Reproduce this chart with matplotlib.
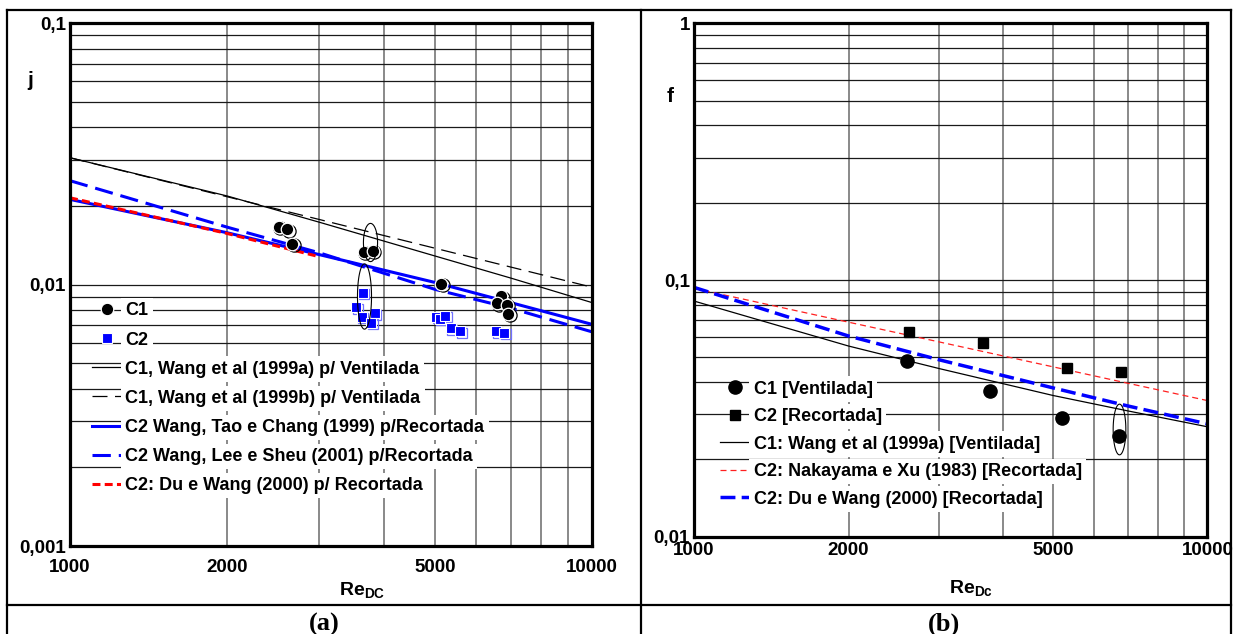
import numpy as np
import matplotlib
matplotlib.use("Agg")
import matplotlib.pyplot as plt
from matplotlib.path import Path
from matplotlib.lines import Line2D
from matplotlib.transforms import offset_copy
from matplotlib.ticker import NullFormatter

plt.rcParams['font.family'] = ['Liberation Sans', 'DejaVu Sans']
plt.rcParams['font.weight'] = 'bold'
plt.rcParams['mathtext.fontset'] = 'custom'
plt.rcParams['mathtext.bf'] = 'Liberation Sans:bold'
plt.rcParams['mathtext.rm'] = 'Liberation Sans:bold'
plt.rcParams['mathtext.it'] = 'Liberation Sans:bold'

# ---- (a) Colburn factor j ----
re_c1_a = [2512, 2606, 2665, 3652, 3806, 5142, 6698, 6592, 6870, 6918]
j_c1 = [0.01668, 0.01630, 0.01432, 0.01339, 0.01351, 0.01007, 0.00901, 0.00850, 0.00837, 0.00773]
re_c2_a = [3642, 3537, 3626, 3834, 3779, 5030, 5105, 5234, 5367, 5591, 6553, 6797]
j_c2 = [0.00933, 0.00818, 0.00755, 0.00778, 0.00716, 0.00755, 0.00740, 0.00762, 0.00682, 0.00662, 0.00662, 0.00656]

re_curve = [1000, 2000, 3000, 5000, 7000, 10000]
j_wang99a = [0.0306, 0.02185, 0.01735, 0.01288, 0.01059, 0.00854]
j_wang99b = [0.0306, 0.0217, 0.01777, 0.01379, 0.01167, 0.00978]
j_tao = [0.0212, 0.0158, 0.01304, 0.0102, 0.00853, 0.00705]
j_lee = [0.0250, 0.0166, 0.01325, 0.0096, 0.00812, 0.0066]
re_du_a = [1000, 2000, 3000]
j_du = [0.0215, 0.0157, 0.0128]

ell_a_re = [3761, 3652]
ell_a_j = [0.0145, 0.00908]

# ---- (b) friction factor f ----
re_c1_b = [2595, 3771, 5206, 6716]
f_c1 = [0.0485, 0.0370, 0.0291, 0.0247]
re_c2_b = [2622, 3654, 5325, 6784]
f_c2 = [0.0626, 0.0570, 0.0455, 0.0438]

f_wang99a = [0.0828, 0.0553, 0.0452, 0.0355, 0.0309, 0.0268]
f_nakayama = [0.0928, 0.0685, 0.0574, 0.0459, 0.0396, 0.0339]
f_du = [0.0936, 0.0605, 0.0489, 0.0380, 0.0323, 0.0275]

ell_b_re = [6714]
ell_b_f = [0.02634]

x_major = [1000, 2000, 5000, 10000]
x_labels = ['1000', '2000', '5000', '10000']
x_minor = [3000, 4000, 6000, 7000, 8000, 9000]

BOLD13 = {'weight': 'bold', 'size': 13}


def ellipse_marker(ratio):
    t = np.linspace(0, 2 * np.pi, 80)
    return Path(np.column_stack([ratio * np.cos(t), np.sin(t)]))


def setup_axes(ax, ylim, yticks, ylabels, xpad):
    ax.set_xscale('log')
    ax.set_yscale('log')
    ax.set_xlim(1000, 10000)
    ax.set_ylim(*ylim)
    ax.set_xticks(x_major, x_labels, fontweight='bold')
    ax.set_xticks(x_minor, minor=True)
    ax.xaxis.set_minor_formatter(NullFormatter())
    yminor = [m * d for d in yticks[:-1] for m in range(2, 10)]
    ax.set_yticks(yticks, ylabels, fontweight='bold')
    ax.set_yticks(yminor, minor=True)
    ax.yaxis.set_minor_formatter(NullFormatter())
    ax.grid(which='both', axis='x', color='#6a6a6a', lw=1.1)
    ax.grid(which='both', axis='y', color='#1a1a1a', lw=0.9)
    ax.tick_params(which='both', length=0, labelsize=13.5)
    ax.tick_params(axis='y', pad=3)
    ax.tick_params(axis='x', pad=xpad)
    for s in ax.spines.values():
        s.set_linewidth(2.3)
    ax.set_axisbelow(True)


fig = plt.figure(figsize=(12.34, 6.34), dpi=100)

# ---------------- panel (a) ----------------
ax1 = fig.add_axes([0.0567, 0.1388, 0.423, 0.8244])
setup_axes(ax1, (0.001, 0.1), [0.001, 0.01, 0.1], ['0,001', '0,01', '0,1'], 9)

sh = offset_copy(ax1.transData, fig=fig, x=1.5, y=-1.5, units='dots')

l1, = ax1.plot(re_curve, j_wang99a, color='black', lw=0.9)
l2, = ax1.plot(re_curve, j_wang99b, color='black', lw=0.9, dashes=(12, 6))
l3, = ax1.plot(re_curve, j_tao, color='#0000ff', lw=2.2)
l4, = ax1.plot(re_curve, j_lee, color='#0000ff', lw=2.2, dashes=(6, 2.6))
l5, = ax1.plot(re_du_a, j_du, color='#ff0000', lw=2.2, dashes=(2.6, 1.4))

ax1.plot(re_c2_a, j_c2, 's', ms=7, mfc='none', mec='#7070ff', mew=0.9, transform=sh)
p2, = ax1.plot(re_c2_a, j_c2, 's', ms=6.5, mfc='#0000ff', mec='white', mew=0.8, ls='none')
ax1.plot(re_c1_a, j_c1, 'o', ms=9.5, mfc='none', mec='black', mew=0.9, transform=sh)
p1, = ax1.plot(re_c1_a, j_c1, 'o', ms=9, mfc='black', mec='white', mew=0.9, ls='none')

ax1.plot(ell_a_re[:1], ell_a_j[:1], ls='none', marker=ellipse_marker(0.37), ms=27.5,
         mfc='none', mec='black', mew=0.8)
ax1.plot(ell_a_re[1:], ell_a_j[1:], ls='none', marker=ellipse_marker(0.215), ms=47,
         mfc='none', mec='black', mew=0.8)

leg1 = ax1.legend([p1, p2, l1, l2, l3, l4, l5],
                  ['C1', 'C2',
                   'C1, Wang et al (1999a) p/ Ventilada',
                   'C1, Wang et al (1999b) p/ Ventilada',
                   'C2 Wang, Tao e Chang (1999) p/Recortada',
                   'C2 Wang, Lee e Sheu (2001) p/Recortada',
                   'C2: Du e Wang (2000) p/ Recortada'],
                  loc='upper left', bbox_to_anchor=(0.042, 0.466), frameon=False,
                  prop=BOLD13, handlelength=1.66, handletextpad=0.2, labelspacing=0.67,
                  borderpad=0, borderaxespad=0, numpoints=1)
for t in leg1.get_texts():
    t.set_bbox(dict(facecolor='white', edgecolor='none', pad=3))

ax1.set_xlabel(r'Re$_\mathbf{DC}$', fontsize=14, fontweight='bold', va='center')
ax1.xaxis.set_label_coords(0.56, -0.084)

# ---------------- panel (b) ----------------
ax2 = fig.add_axes([0.5624, 0.1535, 0.4161, 0.8097])
setup_axes(ax2, (0.01, 1), [0.01, 0.1, 1], ['0,01', '0,1', '1'], 3.8)

m1, = ax2.plot(re_curve, f_wang99a, color='black', lw=0.9)
m2, = ax2.plot(re_curve, f_nakayama, color='#ff2020', lw=0.9, dashes=(4.8, 3.2))
m3, = ax2.plot(re_curve, f_du, color='#0000ff', lw=2.5, dashes=(4.3, 1.8))
q1, = ax2.plot(re_c1_b, f_c1, 'o', ms=9.5, mfc='black', mec='black', ls='none')
q2, = ax2.plot(re_c2_b, f_c2, 's', ms=7.5, mfc='black', mec='black', ls='none')
ax2.plot(ell_b_re, ell_b_f, ls='none', marker=ellipse_marker(0.25), ms=36.5,
         mfc='none', mec='black', mew=0.8)

leg2 = ax2.legend([q1, q2, m1, m2, m3],
                  ['C1 [Ventilada]', 'C2 [Recortada]',
                   'C1: Wang et al (1999a) [Ventilada]',
                   'C2: Nakayama e Xu (1983) [Recortada]',
                   'C2: Du e Wang (2000) [Recortada]'],
                  loc='upper left', bbox_to_anchor=(0.0506, 0.304), frameon=False,
                  prop=BOLD13, handlelength=1.66, handletextpad=0.2, labelspacing=0.58,
                  borderpad=0, borderaxespad=0, numpoints=1)
for t in leg2.get_texts():
    t.set_bbox(dict(facecolor='white', edgecolor='none', pad=3))

ax2.set_xlabel(r'Re$_\mathbf{Dc}$', fontsize=14, fontweight='bold', va='center')
ax2.xaxis.set_label_coords(0.539, -0.1)

# axis symbols and captions
W, H = 1234.0, 634.0
fig.text(30 / W, 1 - 81 / H, 'j', fontsize=15, fontweight='bold', ha='center', va='center')
fig.text(670 / W, 1 - 96 / H, 'f', fontsize=15, fontweight='bold', ha='center', va='center')
fig.text(324 / W, 1 - 631 / H, '(a)', fontsize=19, fontweight='bold', ha='center',
         va='baseline', family=['Liberation Serif', 'DejaVu Serif'])
fig.text(944 / W, 1 - 631 / H, '(b)', fontsize=19, fontweight='bold', ha='center',
         va='baseline', family=['Liberation Serif', 'DejaVu Serif'])

# table frame around the two panels
frame = [((7, 7), (10, 634)), ((641, 641), (10, 634)), ((1231, 1231), (10, 634)),
         ((7, 1231), (10, 10)), ((7, 1231), (605, 605))]
for xs, ys in frame:
    fig.add_artist(Line2D([x / W for x in xs], [1 - y / H for y in ys],
                          color='black', lw=1.6, transform=fig.transFigure))

fig.savefig('out.png', dpi=100)
